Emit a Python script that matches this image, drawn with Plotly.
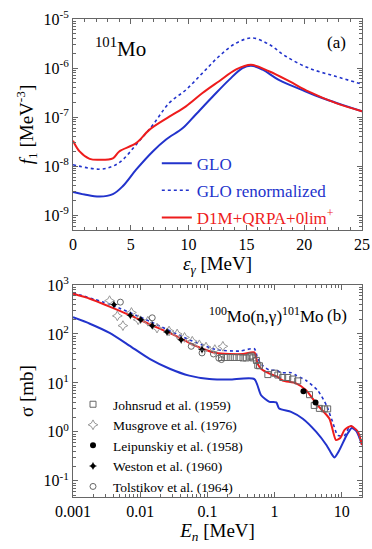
import plotly.graph_objects as go

# ---------------- Panel (a): photon strength function of 101Mo ----------------
glo_E = [0, 1.0, 2.3, 3.45, 4.3, 5.46, 6.9, 8.05, 9.5, 10.6, 12.07, 13.5, 14.66, 15.4, 16.4, 17.8, 19.8, 21.55, 23.3, 25]
glo_f = [3.0e-9, 2.65e-9, 2.4e-9, 2.7e-9, 3.9e-9, 8.5e-9, 2.0e-8, 3.5e-8, 6.0e-8, 1.12e-7, 2.6e-7, 5.75e-7,
         1.0e-6, 1.12e-6, 9.3e-7, 5.75e-7, 3.6e-7, 2.45e-7, 1.78e-7, 1.32e-7]

ren_E = [0, 2.3, 3.45, 4.3, 5.46, 6.9, 8.33, 9.77, 11.2, 12.64, 14.08, 15.5, 17.0, 18.4, 20.4, 22.7, 25]
ren_f = [1.07e-8, 8.7e-9, 1.0e-8, 1.35e-8, 2.75e-8, 6.9e-8, 1.95e-7, 3.6e-7, 7.9e-7, 1.74e-6, 3.2e-6, 4.1e-6,
         3.0e-6, 1.74e-6, 1.0e-6, 6.8e-7, 4.7e-7]

d1m_E = [0, 0.57, 1.44, 2.3, 3.45, 4.0, 5.46, 6.6, 8.33, 9.77, 11.2, 12.64, 14.08, 15.4, 17.0, 18.7, 20.4, 22.7, 25]
d1m_f = [3.3e-8, 2.0e-8, 1.41e-8, 1.35e-8, 1.45e-8, 2.0e-8, 2.95e-8, 5.5e-8, 1.02e-7, 1.66e-7, 3.1e-7, 5.4e-7,
         9.3e-7, 1.17e-6, 8.5e-7, 5.4e-7, 3.3e-7, 1.95e-7, 1.32e-7]

# ---------------- Panel (b): 100Mo(n,g)101Mo cross section ----------------
sg_glo_E = [0.001, 0.00178, 0.0035, 0.0069, 0.0138, 0.0275, 0.0537, 0.107, 0.214, 0.50, 0.63, 0.84, 1.06, 1.17,
            1.76, 2.63, 4.17, 5.9, 7.3, 7.8, 9.1, 12.0, 14.1, 16.6, 20.0]
sg_glo_s = [219, 162, 105, 58, 31, 19.5, 14.1, 12.0, 11.7, 12.0, 5.6, 4.1, 4.0, 3.0,
            2.57, 1.86, 1.0, 0.54, 0.33, 0.30, 0.41, 0.89, 1.2, 1.02, 0.54]

sg_ren_E = [0.001, 0.0035, 0.0138, 0.0537, 0.135, 0.30, 0.50, 0.56, 0.66, 0.84, 1.06, 1.26, 1.76, 2.09, 2.95,
            4.37, 5.9, 7.3, 8.7, 11.0, 12.9, 13.8, 17.4, 20.0]
sg_ren_s = [690, 405, 182, 76, 48, 44.7, 50, 31.6, 23, 18.2, 18.2, 16.2, 16.2, 14.3, 11.2,
            7.1, 3.5, 1.6, 0.85, 0.85, 1.26, 1.32, 1.0, 0.54]

sg_d1m_E = [0.001, 0.00178, 0.0035, 0.0069, 0.0138, 0.0275, 0.0537, 0.085, 0.135, 0.214, 0.339, 0.50, 0.56, 0.63,
            0.84, 1.12, 1.32, 2.09, 2.95, 4.37, 6.55, 8.2, 9.5, 11.0, 13.8, 17.4, 20.0]
sg_d1m_s = [660, 525, 363, 245, 158, 105, 66, 50, 40.7, 38.9, 38.9, 42, 24.5, 19.5,
            15.5, 13.2, 11.2, 9.8, 7.1, 3.5, 1.86, 0.68, 0.75, 1.1, 1.32, 1.0, 0.54]

# experimental data
johnsrud_E = [0.162, 0.19, 0.219, 0.251, 0.295, 0.339, 0.38, 0.427, 0.447, 0.479, 0.537, 0.562, 0.596, 0.794,
              1.0, 1.12, 1.32, 1.57, 1.86, 2.21, 3.31, 3.89, 4.64, 5.5, 6.17]
johnsrud_s = [33.1, 33.1, 33.1, 33.1, 33.1, 32.4, 32.4, 33.9, 35.5, 32.4, 28.8, 22.9, 22.4, 14.8,
              15.8, 14.5, 12.9, 12.9, 12.0, 11.0, 5.75, 3.47, 3.02, 2.95, 2.95]
musgrove_E = [0.0035, 0.00457, 0.00553, 0.00741, 0.00933, 0.013, 0.0178, 0.0269, 0.0355, 0.0457, 0.0596,
              0.0759, 0.0955, 0.129, 0.17]
musgrove_s = [479, 234, 148, 275, 195, 182, 132, 115, 100, 85, 71, 60, 54, 48, 56]
leipunskiy_E = [2.69, 4.07]
leipunskiy_s = [6.8, 4.0]
weston_E = [0.00407, 0.00713, 0.0102, 0.0151, 0.0251, 0.0407, 0.0832]
weston_s = [398, 240, 195, 148, 110, 76, 48]
tolstikov_E = [0.00507, 0.0151, 0.0575, 0.0832, 0.123, 0.148, 0.162]
tolstikov_s = [447, 214, 56, 41, 39, 32, 30]

# tick labels
f_tickvals = [1e-9, 1e-8, 1e-7, 1e-6, 1e-5]
f_ticktext = ["10<sup>-9</sup>", "10<sup>-8</sup>", "10<sup>-7</sup>", "10<sup>-6</sup>", "10<sup>-5</sup>"]
s_tickvals = [0.1, 1, 10, 100, 1000]
s_ticktext = ["10<sup>-1</sup>", "10<sup>0</sup>", "10<sup>1</sup>", "10<sup>2</sup>", "10<sup>3</sup>"]
En_tickvals = [0.001, 0.01, 0.1, 1, 10]
En_ticktext = ["0.001", "0.01", "0.1", "1", "10"]

BLUE = "#2233cc"
RED = "#ee1c1c"
FONT = "Liberation Serif, Times New Roman, serif"
AX = "#666666"

fig = go.Figure()

fig.add_trace(go.Scatter(x=glo_E, y=glo_f, mode="lines", name="GLO", line=dict(color=BLUE, width=2, shape="spline"),
                         xaxis="x", yaxis="y", legend="legend", legendgroup="a1"))
fig.add_trace(go.Scatter(x=ren_E, y=ren_f, mode="lines", name="GLO renormalized",
                         line=dict(color=BLUE, width=1.6, dash="dot", shape="spline"),
                         xaxis="x", yaxis="y", legend="legend", legendgroup="a2"))
fig.add_trace(go.Scatter(x=d1m_E, y=d1m_f, mode="lines",
                         name='<span style="color:#ee1c1c">D1M+QRPA+0lim<sup>+</sup></span>',
                         line=dict(color=RED, width=2, shape="spline"),
                         xaxis="x", yaxis="y", legend="legend", legendgroup="a3"))

fig.add_trace(go.Scatter(x=sg_glo_E, y=sg_glo_s, mode="lines", showlegend=False,
                         line=dict(color=BLUE, width=2, shape="spline", smoothing=0.6), xaxis="x2", yaxis="y2"))
fig.add_trace(go.Scatter(x=sg_ren_E, y=sg_ren_s, mode="lines", showlegend=False,
                         line=dict(color=BLUE, width=1.6, dash="dot", shape="spline", smoothing=0.6), xaxis="x2", yaxis="y2"))
fig.add_trace(go.Scatter(x=sg_d1m_E, y=sg_d1m_s, mode="lines", showlegend=False,
                         line=dict(color=RED, width=2, shape="spline", smoothing=0.6), xaxis="x2", yaxis="y2"))

exp_sets = [
    ("Johnsrud et al. (1959)", johnsrud_E, johnsrud_s, dict(symbol="square-open", size=6, color="#666666", line=dict(width=1))),
    ("Musgrove et al. (1976)", musgrove_E, musgrove_s, dict(symbol="star-diamond-open", size=7, color="#999999", line=dict(width=1))),
    ("Leipunskiy et al. (1958)", leipunskiy_E, leipunskiy_s, dict(symbol="circle", size=6, color="#000000")),
    ("Weston et al. (1960)", weston_E, weston_s, dict(symbol="star-diamond", size=6, color="#000000")),
    ("Tolstikov et al. (1964)", tolstikov_E, tolstikov_s, dict(symbol="circle-open", size=6, color="#666666", line=dict(width=1))),
]
for i, (nm, ex, ey, mk) in enumerate(exp_sets):
    fig.add_trace(go.Scatter(x=ex, y=ey, mode="markers", name=nm, marker=mk, xaxis="x2", yaxis="y2",
                             legend="legend2", legendgroup="b%d" % i))

axis_common = dict(showline=True, linecolor=AX, linewidth=1, mirror="allticks", ticks="inside",
                   tickcolor=AX, showgrid=False, zeroline=False, automargin=False,
                   tickfont=dict(family=FONT, size=16, color="black"))

fig.update_layout(
    width=372, height=549, autosize=False,
    margin=dict(l=73, r=10, t=19, b=52),
    paper_bgcolor="white", plot_bgcolor="white",
    font=dict(family=FONT, color="black"),
    xaxis=dict(domain=[0, 1], anchor="y", range=[0, 25], dtick=5, ticklen=5,
               minor=dict(dtick=1, ticks="inside", ticklen=3, tickcolor=AX),
               title=dict(text="<i>ε</i><sub><i>γ</i></sub> [MeV]", font=dict(family=FONT, size=19), standoff=2),
               **axis_common),
    yaxis=dict(domain=[0.5586, 1.0], anchor="x", type="log", range=[-9.3, -5],
               tickmode="array", tickvals=f_tickvals, ticktext=f_ticktext, ticklen=5,
               minor=dict(dtick="D1", ticks="inside", ticklen=3, tickcolor=AX),
               title=dict(text="<i>f</i><sub>1</sub> [MeV<sup>-3</sup>]", font=dict(family=FONT, size=19), standoff=4),
               **axis_common),
    xaxis2=dict(domain=[0, 1], anchor="y2", type="log", range=[-3, 1.30103],
                tickmode="array", tickvals=En_tickvals, ticktext=En_ticktext, ticklen=5,
                minor=dict(dtick="D1", ticks="inside", ticklen=3, tickcolor=AX),
                title=dict(text="<i>E</i><sub><i>n</i></sub> [MeV]", font=dict(family=FONT, size=19), standoff=2),
                **axis_common),
    yaxis2=dict(domain=[0, 0.4435], anchor="x2", type="log", range=[-1.33, 3],
                tickmode="array", tickvals=s_tickvals, ticktext=s_ticktext, ticklen=5,
                minor=dict(dtick="D1", ticks="inside", ticklen=3, tickcolor=AX),
                title=dict(text="σ [mb]", font=dict(family=FONT, size=19), standoff=4),
                **axis_common),
    legend=dict(x=0.29, y=0.735, xanchor="left", yanchor="top", bgcolor="rgba(0,0,0,0)",
                font=dict(family=FONT, size=17, color=BLUE), traceorder="grouped", tracegroupgap=2,
                itemwidth=30),
    legend2=dict(x=0.0, y=0.226, xanchor="left", yanchor="top", bgcolor="rgba(0,0,0,0)",
                 font=dict(family=FONT, size=13.5, color="black"), traceorder="grouped", tracegroupgap=0),
    annotations=[
        dict(text="<sup>101</sup>Mo", xref="x domain", yref="y domain", x=0.068, y=0.865, xanchor="left",
             yanchor="middle", showarrow=False, font=dict(family=FONT, size=21)),
        dict(text="(a)", xref="x domain", yref="y domain", x=0.913, y=0.888, xanchor="center",
             yanchor="middle", showarrow=False, font=dict(family=FONT, size=17)),
        dict(text="<sup>100</sup>Mo(n,γ)<sup>101</sup>Mo", xref="x2 domain", yref="y2 domain", x=0.668, y=0.858,
             xanchor="center", yanchor="middle", showarrow=False, font=dict(family=FONT, size=17)),
        dict(text="(b)", xref="x2 domain", yref="y2 domain", x=0.915, y=0.858, xanchor="center",
             yanchor="middle", showarrow=False, font=dict(family=FONT, size=17)),
    ],
)

fig.write_html("out.html")
